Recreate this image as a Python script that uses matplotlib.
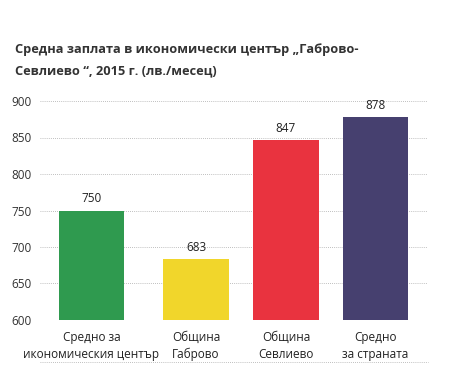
import matplotlib

matplotlib.use("Agg")
import matplotlib.pyplot as plt
from matplotlib.lines import Line2D

categories = ["Средно за\nикономическия център", "Община\nГаброво", "Община\nСевлиево", "Средно\nза страната"]
values = [750, 683, 847, 878]
colors = ["#2f9a4f", "#f1d62b", "#e9333f", "#46406f"]
yticks = [600, 650, 700, 750, 800, 850, 900]
title = "Средна заплата в икономически център „Габрово-\nСевлиево “, 2015 г. (лв./месец)"

plt.rcParams["font.family"] = ["Open Sans", "DejaVu Sans"]

W, H = 453, 365
fig = plt.figure(figsize=(W / 100, H / 100), dpi=100)
ax = fig.add_axes([40 / W, (H - 320) / H, (428 - 40) / W, (320 - 101) / H])

# bar centres are not evenly spaced in the original layout
xs = [0, 1.089, 2.026, 2.958]
ax.bar(xs, values, width=0.68, color=colors, zorder=2)
for x, v in zip(xs, values):
    ax.text(x, v + 7, str(v), ha="center", va="bottom", fontsize=8.5, color="#222222")

ax.set_ylim(600, 900)
ax.set_xlim(-0.536, 3.505)
ax.set_yticks(yticks)
ax.set_yticklabels([str(t) for t in yticks], fontsize=8.5, color="#333333")
ax.set_xticks(xs)
ax.set_xticklabels(categories, fontsize=8.5, color="#222222", linespacing=1.35)
ax.tick_params(length=0, pad=6)
ax.tick_params(axis="x", pad=8)
ax.grid(axis="y", linestyle=(0, (1, 1.5)), color="#aaaaaa", linewidth=0.6, zorder=0)
for s in ax.spines.values():
    s.set_visible(False)

fig.add_artist(Line2D([40 / W, 428 / W], [(H - 362) / H] * 2, transform=fig.transFigure,
                      linestyle=(0, (1, 1.5)), color="#aaaaaa", linewidth=0.6))

fig.text(15 / W, 1 - 43 / H, title, ha="left", va="top", fontsize=9.2, fontweight="bold",
         color="#333333", linespacing=1.85)

fig.savefig("out.png", dpi=100)
